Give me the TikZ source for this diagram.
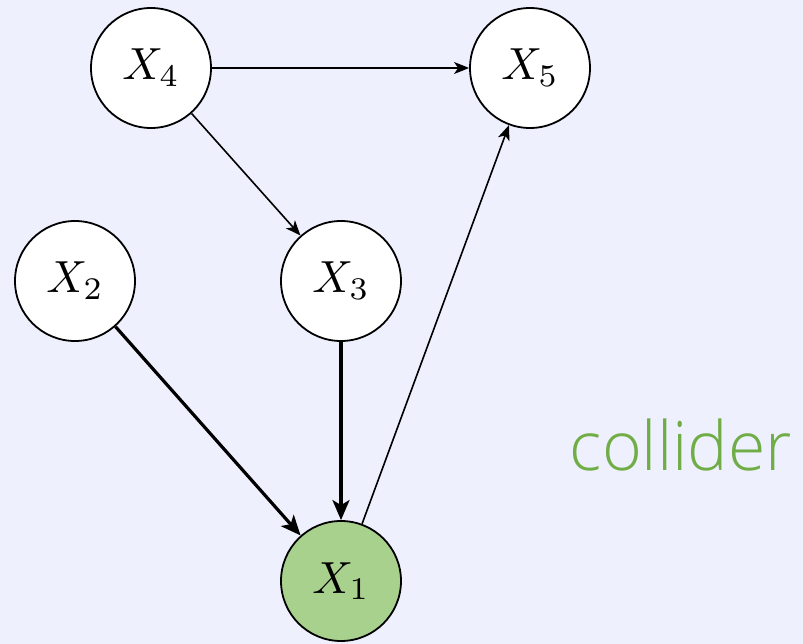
\documentclass[tikz,border=0pt]{standalone}
\usepackage{fontspec}
\newfontfamily\labelfont{Open Sans Light}
\usetikzlibrary{arrows.meta}
\definecolor{bgcol}{HTML}{EEF1FD}
\definecolor{collfill}{HTML}{A9D18E}
\definecolor{colltext}{HTML}{70AD47}
\newcommand{\bigvar}[1]{\scalebox{4.5}{$X_{#1}$}}
\begin{document}
\begin{tikzpicture}[x=1pt,y=-1pt,
  var/.style={circle,draw=black,line width=1.8pt,fill=white,minimum size=120pt,inner sep=0pt},
  thin/.style={line width=1.6pt,-{Stealth[length=15pt,width=12pt,inset=4pt]}},
  thick/.style={line width=3.2pt,-{Stealth[length=20pt,width=17pt,inset=5pt]}}]
  \fill[bgcol] (0,0) rectangle (803,644);
  \useasboundingbox (0,0) rectangle (803,644);
  \node[var] (x4) at (151,68) {\bigvar{4}};
  \node[var] (x5) at (530,68) {\bigvar{5}};
  \node[var] (x2) at (75,281) {\bigvar{2}};
  \node[var] (x3) at (341,281) {\bigvar{3}};
  \node[var,fill=collfill] (x1) at (341,581) {\bigvar{1}};
  \node[text=colltext,font=\labelfont\fontsize{68}{72}\selectfont,inner sep=0pt] (lab) at (681,445) {collider};
  \draw[thin] (x4) -- (x5);
  \draw[thin] (x4) -- (x3);
  \draw[thin] (x1) -- (x5);
  \draw[thick] (x2) -- (x1);
  \draw[thick] (x3) -- (x1);
\end{tikzpicture}
\end{document}
